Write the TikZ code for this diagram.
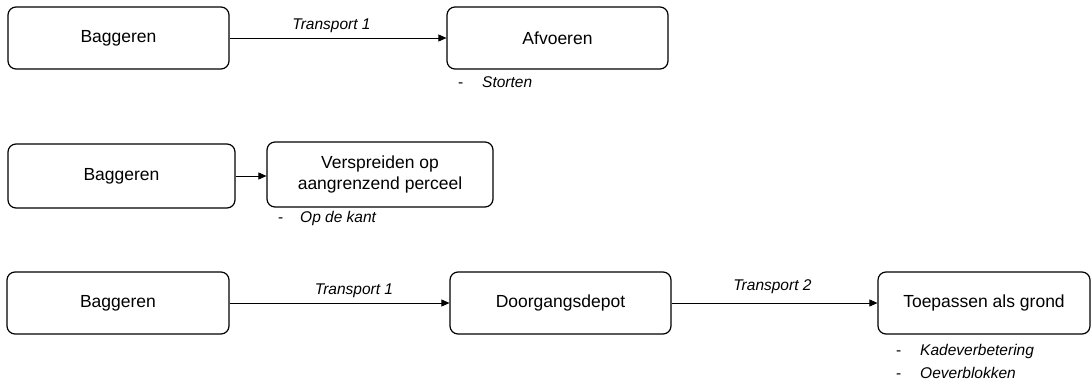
\documentclass[tikz,border=0pt]{standalone}
\usepackage{fontspec}
\setmainfont{Liberation Sans}
\usetikzlibrary{arrows.meta}
\begin{document}
\begin{tikzpicture}[x=1pt,y=-1pt,
  box/.style={draw, line width=1.2pt, rounded corners=8pt, inner sep=2pt,
    align=center, font=\fontsize{17.5}{27}\selectfont},
  flow/.style={line width=0.7pt, -{Triangle[length=8pt,width=7pt]}},
  lbl/.style={font=\fontsize{15.5}{18}\selectfont\itshape, inner sep=0pt, anchor=base},
  item/.style={font=\fontsize{15.5}{18}\selectfont, inner sep=0pt, anchor=base west}]
\useasboundingbox (0,0) rectangle (1092,385);

% first chain: dredging and disposal
\node[box, minimum width=221pt, minimum height=62pt] (b1) at (118.5,38) {Baggeren};
\node[box, minimum width=221pt, minimum height=62pt] (afv) at (557.5,38) {Afvoeren};
\draw[flow] (b1.east) -- node[lbl, pos=0.47, yshift=8pt] {Transport 1} (afv.west);
\node[item] (afvl) at (458,88) {\makebox[24pt][l]{-}\textit{Storten}};

% second chain: spreading on the adjacent plot
\node[box, minimum width=227pt, minimum height=64pt] (b2) at (121.5,176) {Baggeren};
\node[box, minimum width=226pt, minimum height=65pt] (vsp) at (380,174.5)
  {Verspreiden op\\[-6pt]aangrenzend perceel};
\draw[flow] (b2.east) -- (b2.east -| vsp.west);
\node[item] (vspl) at (278,222) {\makebox[22pt][l]{-}\textit{Op de kant}};

% third chain: via transit depot to reuse as soil
\node[box, minimum width=222pt, minimum height=62pt] (b3) at (118,303) {Baggeren};
\node[box, minimum width=221pt, minimum height=62pt] (dep) at (560.5,303) {Doorgangsdepot};
\node[box, minimum width=212pt, minimum height=62pt] (toe) at (984,303) {Toepassen als grond};
\draw[flow] (b3.east) -- node[lbl, pos=0.566, yshift=9pt] {Transport 1} (dep.west);
\draw[flow] (dep.east) -- node[lbl, pos=0.49, yshift=13pt] {Transport 2} (toe.west);
\node[item] (toel1) at (896,355) {\makebox[24pt][l]{-}\textit{Kadeverbetering}};
\node[item] (toel2) at (896,378) {\makebox[24pt][l]{-}\textit{Oeverblokken}};
\end{tikzpicture}
\end{document}
